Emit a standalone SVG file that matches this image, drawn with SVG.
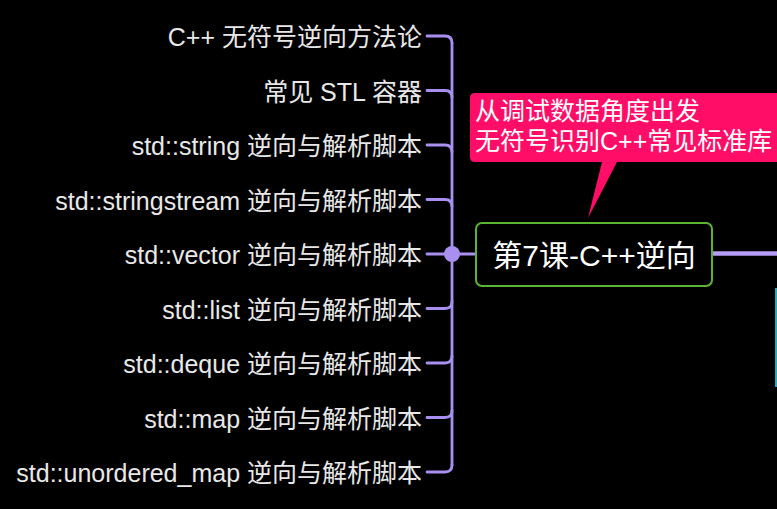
<svg xmlns="http://www.w3.org/2000/svg" width="777" height="509" viewBox="0 0 777 509">
<style>
.lbl{font-family:"Liberation Sans","Noto Sans CJK SC",sans-serif;font-size:25px;fill:#e8e8e8;text-anchor:end;dominant-baseline:central}
.br{fill:none;stroke:#a98ff0;stroke-width:2.8;stroke-linecap:round}
.ctext{font-family:"Liberation Sans","Noto Sans CJK SC",sans-serif;font-size:25px;fill:#ffffff;dominant-baseline:central}
</style>
<rect x="0" y="0" width="777" height="509" fill="#000000"/>
<g id="connectors">
<path class="br" d="M452,43 V465"/>
<path class="br" d="M427,36 H445 Q452,36 452,43"/>
<path class="br" d="M427,90.5 H445 Q452,90.5 452,97.5"/>
<path class="br" d="M427,145 H445 Q452,145 452,152"/>
<path class="br" d="M427,199.5 H445 Q452,199.5 452,206.5"/>
<path class="br" d="M427,254 H476"/>
<path class="br" d="M427,308.5 H445 Q452,308.5 452,301.5"/>
<path class="br" d="M427,363 H445 Q452,363 452,356"/>
<path class="br" d="M427,417.5 H445 Q452,417.5 452,410.5"/>
<path class="br" d="M427,472 H445 Q452,472 452,465"/>
<circle cx="452" cy="254" r="8" fill="#a98ff0"/>
<path d="M712,253.5 H777" stroke="#b59cf5" stroke-width="4.5" fill="none"/>
<path d="M776,288 V387" stroke="#1ab0c8" stroke-width="2" fill="none"/>
</g>
<g id="n1"><text class="lbl" x="422" y="37">C++ 无符号逆向方法论</text></g>
<g id="n2"><text class="lbl" x="422" y="91.5">常见 STL 容器</text></g>
<g id="n3"><text class="lbl" x="422" y="146">std::string 逆向与解析脚本</text></g>
<g id="n4"><text class="lbl" x="422" y="200.5">std::stringstream 逆向与解析脚本</text></g>
<g id="n5"><text class="lbl" x="422" y="255">std::vector 逆向与解析脚本</text></g>
<g id="n6"><text class="lbl" x="422" y="309.5">std::list 逆向与解析脚本</text></g>
<g id="n7"><text class="lbl" x="422" y="364">std::deque 逆向与解析脚本</text></g>
<g id="n8"><text class="lbl" x="422" y="418.5">std::map 逆向与解析脚本</text></g>
<g id="n9"><text class="lbl" x="422" y="473">std::unordered_map 逆向与解析脚本</text></g>
<g id="root">
<rect x="476" y="223" width="236" height="63" rx="6" fill="#000000" stroke="#5cb531" stroke-width="2"/>
<text x="594" y="255" style="font-family:'Liberation Sans','Noto Sans CJK SC',sans-serif;font-size:30px;fill:#ffffff;text-anchor:middle;dominant-baseline:central">第7课-C++逆向</text>
</g>
<g id="callout">
<path d="M475,93 H777 V162 H617 L588,218 L602,162 H475 Q470,162 470,157 V98 Q470,93 475,93 Z" fill="#ff0d67"/>
<text class="ctext" x="475" y="111">从调试数据角度出发</text>
<text class="ctext" x="475" y="141">无符号识别C++常见标准库</text>
</g>
</svg>
